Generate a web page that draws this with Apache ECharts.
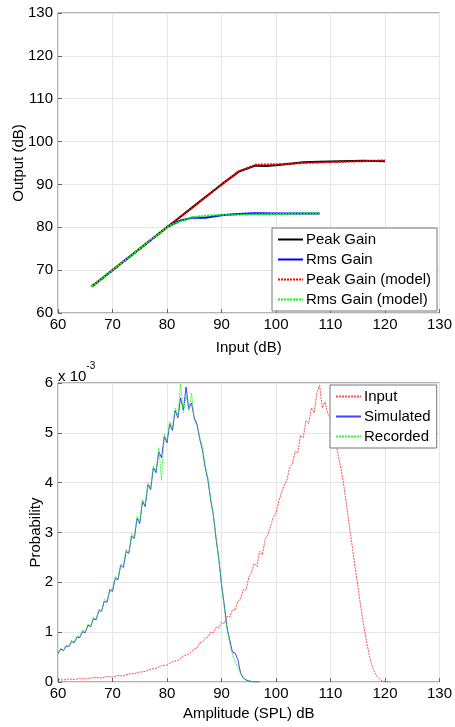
<!DOCTYPE html>
<html>
<head>
<meta charset="utf-8">
<script src="https://cdn.jsdelivr.net/npm/echarts@6/dist/echarts.min.js"></script>
<style>
html,body{margin:0;padding:0;background:#fff;}
#chart{width:455px;height:727px;}
</style>
</head>
<body>
<div id="chart"></div>
<script>
// ---------- Top chart: gain curves ----------
const peakGainX = [66.2, 80, 82, 85, 88, 90, 93.2, 96.2, 98, 100, 103, 105, 108, 112, 116, 120];
const peakGainY = [66.2, 80, 82, 85, 88, 90, 93.0, 94.4, 94.3, 94.5, 94.9, 95.2, 95.3, 95.4, 95.5, 95.4];
const rmsGainX = [66.2, 80, 81.5, 82.5, 84.5, 87, 90, 93, 96, 100, 104, 108];
const rmsGainY = [66.2, 80, 81.0, 81.6, 82.2, 82.2, 82.8, 83.1, 83.3, 83.2, 83.2, 83.2];
const peakModelX = [66.2, 80, 93.2, 96.3, 100, 105, 110, 115, 120];
const peakModelY = [66.2, 80, 93.1, 94.6, 94.7, 95.0, 95.2, 95.4, 95.6];
const rmsModelX = [66.2, 80, 82, 84.5, 87, 90, 95, 100, 108];
const rmsModelY = [66.2, 80, 81.2, 82.3, 82.7, 82.9, 83.0, 83.1, 83.3];

// ---------- Bottom chart: amplitude distributions (x 10^-3) ----------
const simX = [60,60.5,61,61.5,62,62.5,63,63.5,64,64.5,65,65.5,66,66.5,67,67.5,68,68.5,69,69.5,
  70,70.5,71,71.5,72,72.5,73,73.5,74,74.5,75,75.5,76,76.5,77,77.5,78,78.5,79,79.5,
  80,80.5,81,81.5,82,82.5,83,83.5,84,84.5,85,85.5,86,86.5,87,87.5,88,88.5,89,89.5,
  90,90.5,91,91.5,92,92.5,93,93.5,94,94.5,95,95.5,96,97];
const simulated = [0.58,0.66,0.63,0.72,0.71,0.81,0.79,0.90,0.89,1.01,0.99,1.14,1.11,1.27,1.25,1.43,1.42,1.62,1.60,1.84,
  1.82,2.08,2.05,2.34,2.30,2.62,2.58,2.93,2.88,3.28,3.18,3.62,3.52,3.96,3.86,4.30,4.20,4.62,4.50,4.92,
  4.80,5.18,5.05,5.45,5.30,5.70,5.45,5.92,5.48,5.60,5.30,5.18,4.88,4.66,4.30,4.06,3.66,3.36,2.88,2.48,
  1.96,1.55,1.10,0.85,0.60,0.58,0.45,0.18,0.08,0.04,0.02,0.01,0.00,0.00];
const recorded = [0.55,0.68,0.64,0.74,0.72,0.84,0.80,0.93,0.90,1.05,1.00,1.16,1.13,1.30,1.26,1.46,1.43,1.66,1.62,1.88,
  1.84,2.12,2.07,2.37,2.33,2.66,2.60,2.98,2.90,3.33,3.22,3.66,3.55,4.00,3.90,4.33,4.24,4.70,4.05,4.98,
  4.85,5.22,5.10,5.50,5.35,5.98,5.40,5.75,5.45,5.80,5.25,5.15,4.92,4.70,4.35,4.10,3.70,3.34,2.92,2.45,
  1.98,1.50,1.08,0.78,0.55,0.40,0.30,0.17,0.09,0.05,0.03,0.01,0.00,0.00];
const inputX = [60,61,62,63,64,65,66,67,68,69,70,71,72,73,74,75,76,77,78,79,80,81,82,83,84,85,
  85.5,86,86.5,87,87.5,88,88.5,89,89.5,90,90.5,91,91.5,92,92.5,93,93.5,94,94.5,95,
  95.5,96,96.5,97,97.5,98,98.5,99,99.5,100,100.5,101,101.5,102,102.5,103,103.5,104,104.5,105,
  105.5,106,106.5,107,107.5,108,108.5,109,109.5,110,110.5,111,111.5,112,112.5,113,113.5,114,114.5,115,
  115.5,116,116.5,117,117.5,118,118.5,119,119.5,120,120.5,121];
const inputDist = [0.05,0.04,0.06,0.05,0.07,0.06,0.08,0.09,0.08,0.11,0.10,0.13,0.12,0.16,0.17,0.20,0.21,0.26,0.27,0.33,0.34,0.41,0.43,0.52,0.56,0.66,
  0.68,0.79,0.80,0.88,0.90,1.00,0.99,1.10,1.08,1.20,
  1.17,1.32,1.30,1.45,1.44,1.62,1.66,1.86,1.84,2.10,
  2.20,2.38,2.32,2.62,2.55,2.86,2.96,3.12,3.30,3.40,
  3.62,3.80,3.95,4.05,4.30,4.38,4.62,4.60,4.95,4.90,
  5.25,5.18,5.50,5.40,5.80,5.95,5.50,5.62,5.38,5.30,
  5.05,4.78,4.50,4.25,3.90,3.50,3.10,2.72,2.30,1.95,
  1.55,1.20,0.88,0.60,0.36,0.22,0.12,0.06,0.02,0.01,
  0.00,0.00];

const xTicksMin = 60, xTicksMax = 130, xStep = 10;
const topYMin = 60, topYMax = 130, topYStep = 10;
const botYMin = 0, botYMax = 6, botYStep = 1;

const pairs = (xs, ys) => xs.map((x, i) => [x, ys[i]]);
const FONT = '"Liberation Sans", Arial, Helvetica, sans-serif';
const axisCommon = {
  axisLine: {show: false},
  axisTick: {show: true, inside: true, length: 4, lineStyle: {color: '#666'}},
  splitLine: {show: true, lineStyle: {color: '#e6e6e6', width: 1}},
  axisLabel: {color: '#000', fontSize: 15, fontFamily: FONT},
  nameTextStyle: {color: '#000', fontSize: 15, fontFamily: FONT},
  nameMoveOverlap: false
};
const legendCommon = {
  orient: 'vertical',
  itemWidth: 25, itemHeight: 14, itemGap: 3, padding: [3, 6, 3, 5],
  backgroundColor: '#fff', borderColor: '#777', borderWidth: 1, borderRadius: 0,
  itemStyle: {opacity: 0},
  textStyle: {color: '#000', fontSize: 15, fontFamily: FONT, lineHeight: 17, padding: [0, 0, 0, -2]},
  selectedMode: false
};

const chart = echarts.init(document.getElementById('chart'), null, {renderer: 'canvas'});
chart.setOption({
  animation: false,
  backgroundColor: '#fff',
  textStyle: {fontFamily: FONT},
  grid: [
    {left: 58, top: 13, width: 383, height: 300, show: true, borderColor: '#666', borderWidth: 1, backgroundColor: 'transparent'},
    {left: 58, top: 383, width: 382, height: 299, show: true, borderColor: '#666', borderWidth: 1, backgroundColor: 'transparent'}
  ],
  xAxis: [
    Object.assign({}, axisCommon, {gridIndex: 0, type: 'value', min: xTicksMin, max: xTicksMax, interval: xStep,
      name: 'Input (dB)', nameLocation: 'middle', nameGap: 27,
      axisLabel: Object.assign({}, axisCommon.axisLabel, {margin: 4})}),
    Object.assign({}, axisCommon, {gridIndex: 1, type: 'value', min: xTicksMin, max: xTicksMax, interval: xStep,
      name: 'Amplitude (SPL) dB', nameLocation: 'middle', nameGap: 24,
      axisLabel: Object.assign({}, axisCommon.axisLabel, {margin: 4})})
  ],
  yAxis: [
    Object.assign({}, axisCommon, {gridIndex: 0, type: 'value', min: topYMin, max: topYMax, interval: topYStep,
      name: 'Output (dB)', nameLocation: 'middle', nameGap: 32,
      axisLabel: Object.assign({}, axisCommon.axisLabel, {margin: 5})}),
    Object.assign({}, axisCommon, {gridIndex: 1, type: 'value', min: botYMin, max: botYMax, interval: botYStep,
      name: 'Probability', nameLocation: 'middle', nameGap: 15,
      axisLabel: Object.assign({}, axisCommon.axisLabel, {margin: 5})})
  ],
  legend: [
    Object.assign({}, legendCommon, {
      data: ['Peak Gain', 'Rms Gain', 'Peak Gain (model)', 'Rms Gain (model)'],
      left: 272, top: 228
    }),
    Object.assign({}, legendCommon, {
      data: ['Input', 'Simulated', 'Recorded'],
      left: 330, top: 385
    })
  ],
  graphic: [
    {type: 'text', left: 58, top: 361, style: {
      text: '{a|x 10}{b|-3}', fontFamily: FONT,
      rich: {a: {fontSize: 15, fontFamily: FONT, fill: '#000', padding: [8, 0, 0, 0]},
             b: {fontSize: 10, fontFamily: FONT, fill: '#000', verticalAlign: 'top'}}
    }}
  ],
  series: [
    {name: 'Peak Gain', type: 'line', xAxisIndex: 0, yAxisIndex: 0, data: pairs(peakGainX, peakGainY),
      symbol: 'none', color: '#000', lineStyle: {color: '#000', width: 2}},
    {name: 'Rms Gain', type: 'line', xAxisIndex: 0, yAxisIndex: 0, data: pairs(rmsGainX, rmsGainY),
      symbol: 'none', color: '#0000ff', lineStyle: {color: '#0000ff', width: 2}},
    {name: 'Peak Gain (model)', type: 'line', xAxisIndex: 0, yAxisIndex: 0, data: pairs(peakModelX, peakModelY),
      symbol: 'none', color: '#ff0000', lineStyle: {color: '#ff0000', width: 2, type: [2, 1]}},
    {name: 'Rms Gain (model)', type: 'line', xAxisIndex: 0, yAxisIndex: 0, data: pairs(rmsModelX, rmsModelY),
      symbol: 'none', color: '#00ff00', lineStyle: {color: '#00ff00', width: 2, type: [2, 1]}},

    {name: 'Input', type: 'line', xAxisIndex: 1, yAxisIndex: 1, data: pairs(inputX, inputDist),
      symbol: 'none', color: '#ff4040', lineStyle: {color: '#ff3030', width: 1, type: [2, 1], opacity: 0.85}},
    {name: 'Simulated', type: 'line', xAxisIndex: 1, yAxisIndex: 1, data: pairs(simX, simulated),
      symbol: 'none', color: '#3a3aff', lineStyle: {color: '#2020ff', width: 1, opacity: 0.85}},
    {name: 'Recorded', type: 'line', xAxisIndex: 1, yAxisIndex: 1, data: pairs(simX, recorded),
      symbol: 'none', color: '#40ff40', lineStyle: {color: '#20ee20', width: 1, type: [2, 1], opacity: 0.85}}
  ]
});
</script>
</body>
</html>
